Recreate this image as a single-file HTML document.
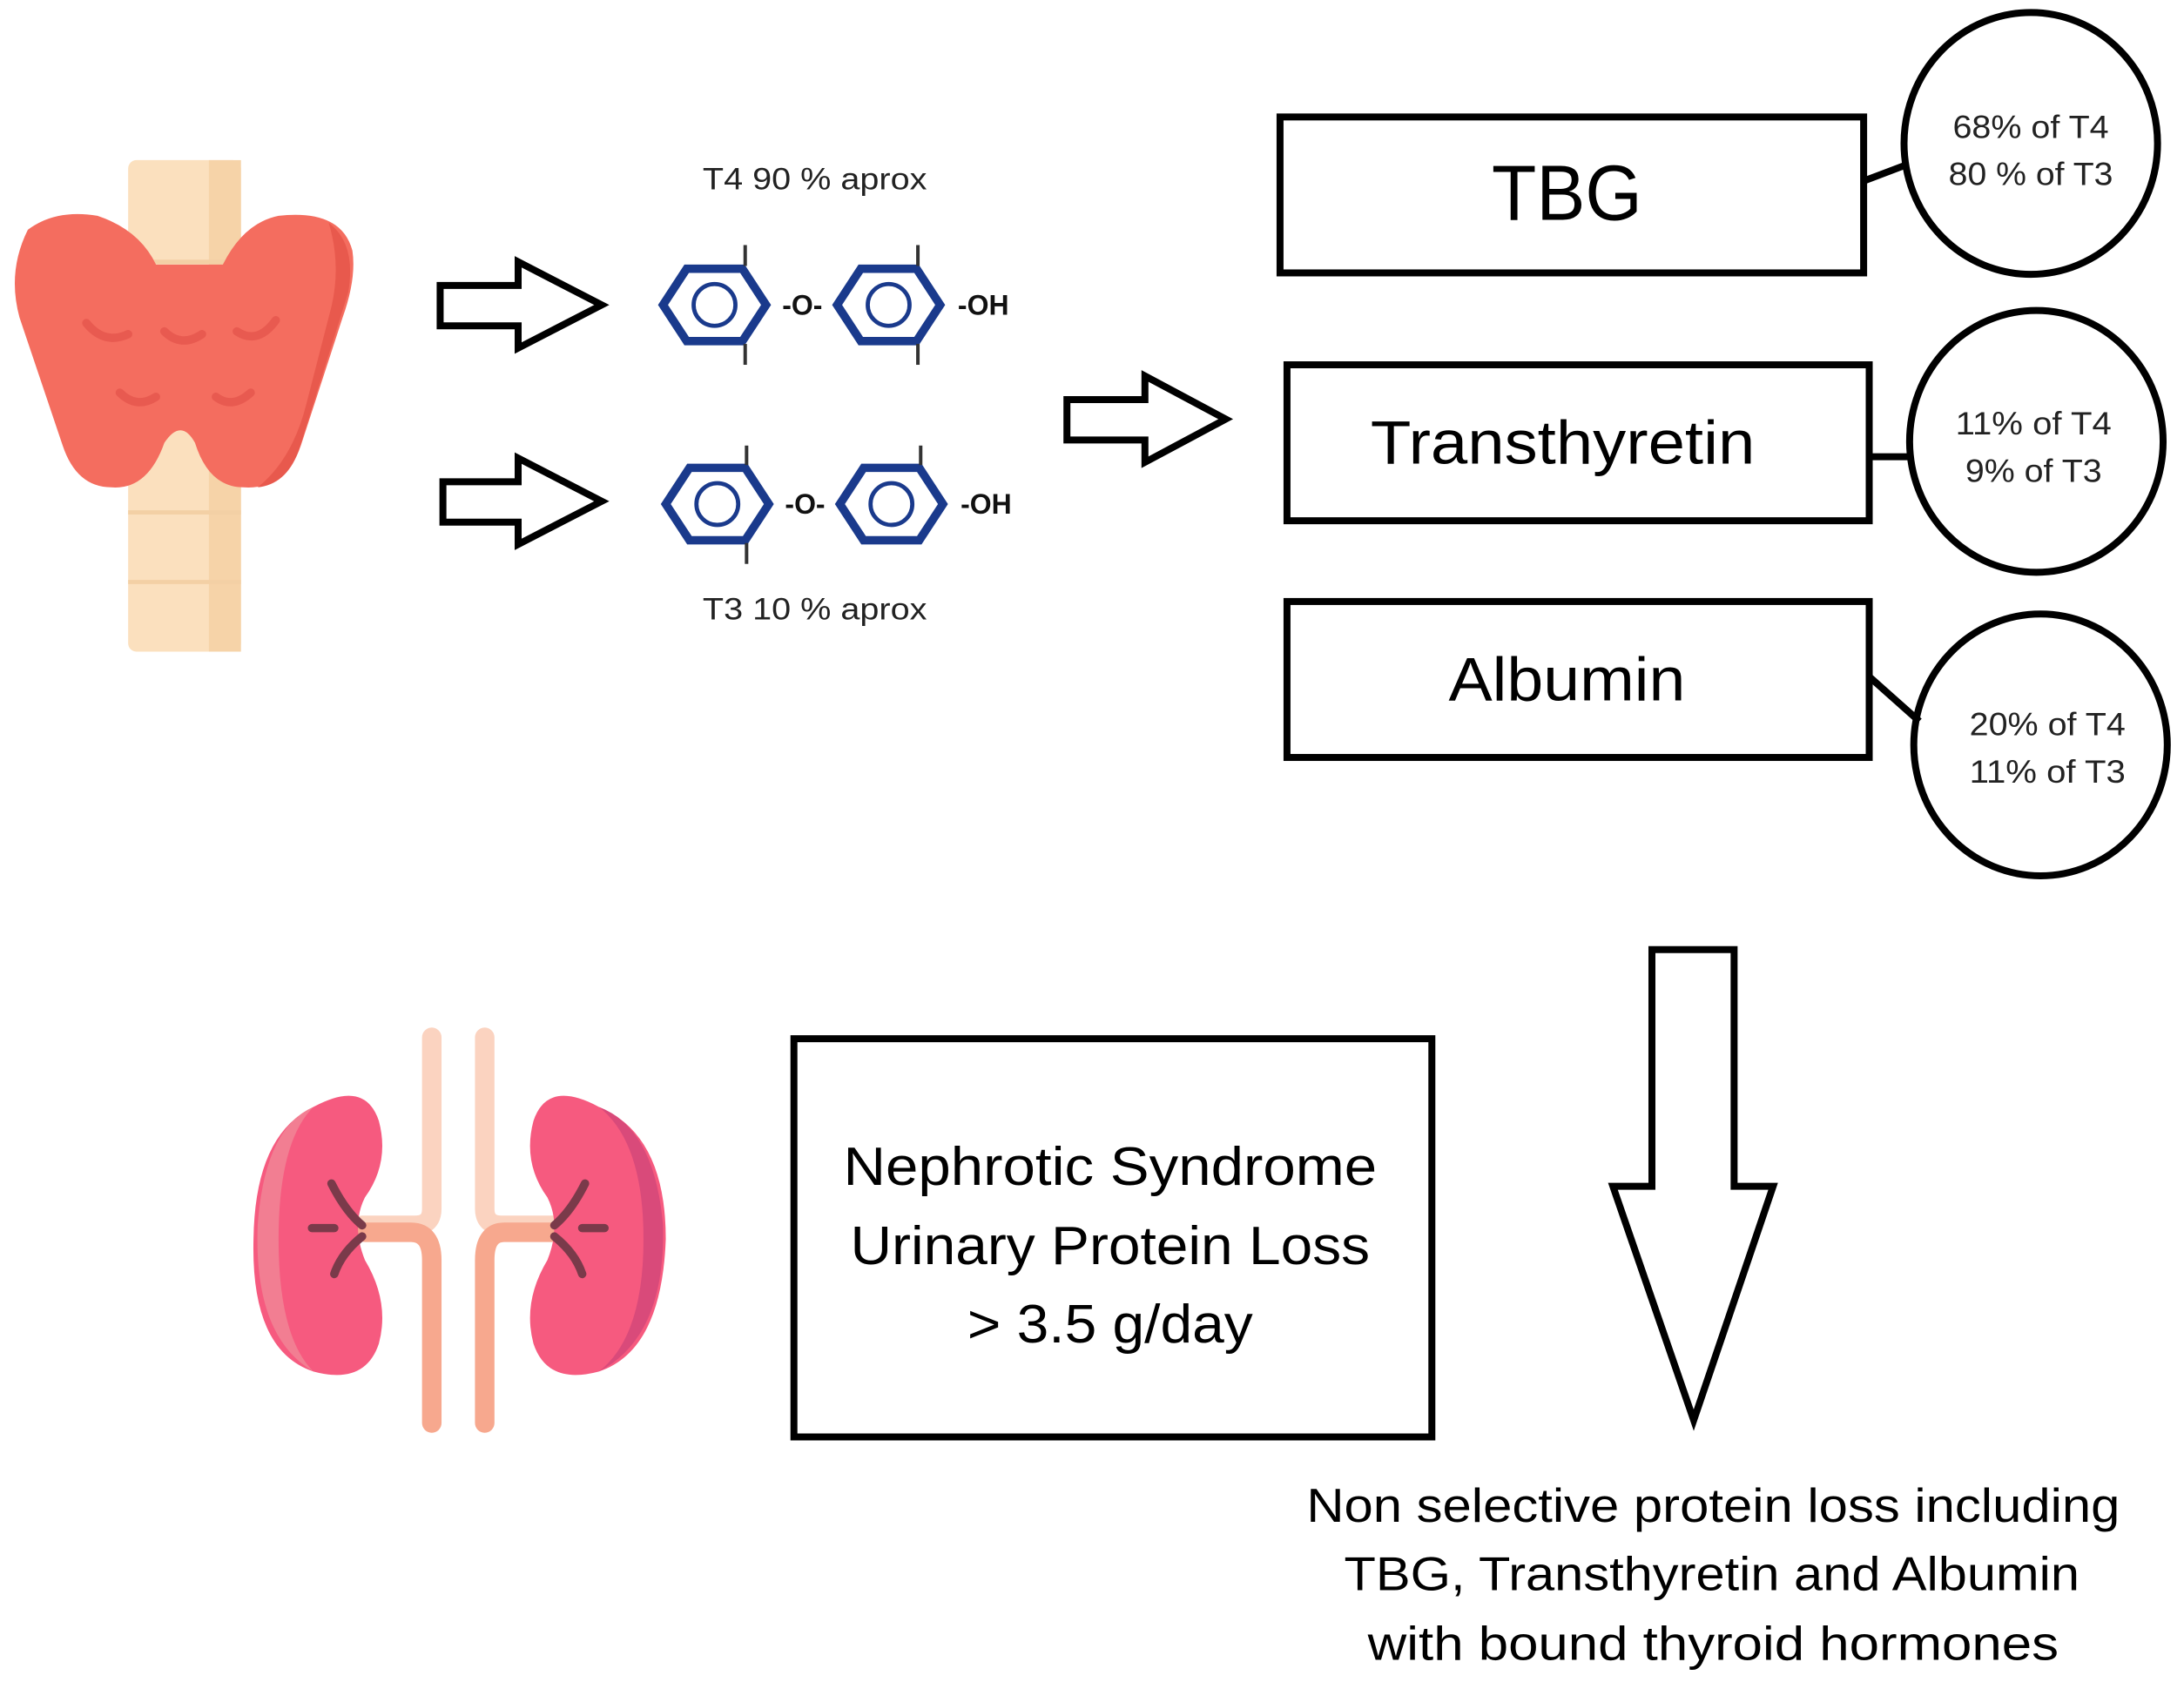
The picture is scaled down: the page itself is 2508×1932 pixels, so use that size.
<!DOCTYPE html>
<html><head><meta charset="utf-8"><style>html,body{margin:0;padding:0;background:#fff}svg{display:block}text{font-family:"Liberation Sans",sans-serif}</style></head>
<body>
<svg width="2508" height="1932" viewBox="0 0 1568 1208" preserveAspectRatio="none" xmlns="http://www.w3.org/2000/svg">
<rect width="1568" height="1208" fill="#fff"/>
<!-- thyroid -->
<rect x="92" y="115" width="81" height="353" rx="6" fill="#fbe0be"/>
<rect x="150" y="115" width="23" height="353" fill="#f6d3a8"/>
<line x1="92" y1="188" x2="173" y2="188" stroke="#f3d0a5" stroke-width="3"/>
<line x1="92" y1="368" x2="173" y2="368" stroke="#f3d0a5" stroke-width="3"/>
<line x1="92" y1="418" x2="173" y2="418" stroke="#f3d0a5" stroke-width="3"/>
<path d="M20,165 Q40,150 70,155 Q100,165 112,190 L160,190 Q175,160 200,155 Q245,150 253,180 Q256,200 246,228 L216,320 Q205,352 175,350 Q150,350 140,318 Q130,300 118,318 Q106,352 80,350 Q55,350 45,320 L14,228 Q5,195 20,165 Z" fill="#f46d5f"/>
<path d="M236,160 Q256,175 250,210 L214,325 Q205,348 185,350 Q210,330 220,290 L238,220 Q245,190 236,160Z" fill="#e8594d"/>
<g fill="none" stroke="#e85a50" stroke-width="6" stroke-linecap="round">
<path d="M62,232 Q75,248 92,240"/><path d="M118,238 Q130,250 145,240"/><path d="M170,238 Q185,248 198,230"/>
<path d="M86,282 Q98,294 112,285"/><path d="M155,285 Q167,294 180,282"/>
</g>
<!-- small arrows -->
<g fill="#fff" stroke="#000" stroke-width="5" stroke-linejoin="miter">
<path d="M316,205 L372,205 L372,188 L432,219 L372,250 L372,234 L316,234 Z"/>
<path d="M318,346 L372,346 L372,329 L432,360 L372,391 L372,375 L318,375 Z"/>
<path d="M766,287 L822,287 L822,270 L880,301 L822,332 L822,316 L766,316 Z"/>
</g>
<!-- molecules -->
<g fill="none" stroke="#1a3a8c">
<g stroke-width="6"><polygon points="476,219 493,193 533,193 550,219 533,245 493,245"/><polygon points="601,219 618,193 658,193 675,219 658,245 618,245"/>
<polygon points="478,362 495,336 535,336 552,362 535,388 495,388"/><polygon points="603,362 620,336 660,336 677,362 660,388 620,388"/></g>
<g stroke-width="3"><circle cx="513" cy="219" r="15"/><circle cx="638" cy="219" r="15"/><circle cx="515" cy="362" r="15"/><circle cx="640" cy="362" r="15"/></g>
</g>
<g stroke="#333" stroke-width="2.5">
<line x1="535" y1="176" x2="535" y2="191"/><line x1="535" y1="247" x2="535" y2="262"/>
<line x1="659" y1="176" x2="659" y2="191"/><line x1="659" y1="247" x2="659" y2="262"/>
<line x1="536" y1="320" x2="536" y2="334"/><line x1="536" y1="390" x2="536" y2="405"/>
<line x1="661" y1="320" x2="661" y2="334"/>
</g>
<g font-size="20" fill="#111" text-anchor="middle" font-weight="bold">
<text x="576" y="226">-O-</text><text x="706" y="226">-OH</text>
<text x="578" y="369">-O-</text><text x="708" y="369">-OH</text>
</g>
<g font-size="22" fill="#222" text-anchor="middle" lengthAdjust="spacingAndGlyphs"><text x="585" y="136" textLength="161" lengthAdjust="spacingAndGlyphs">T4 90 % aprox</text><text x="585" y="445" textLength="161" lengthAdjust="spacingAndGlyphs">T3 10 % aprox</text></g>
<!-- boxes -->
<g fill="#fff" stroke="#000" stroke-width="5">
<rect x="919" y="84" width="419" height="112"/>
<rect x="924" y="262" width="418" height="112"/>
<rect x="924" y="432" width="418" height="112"/>
<ellipse cx="1458" cy="103" rx="91" ry="94"/>
<ellipse cx="1462" cy="317" rx="91" ry="94"/>
<ellipse cx="1465" cy="535" rx="91" ry="94"/>
<line x1="1338" y1="130" x2="1367" y2="119"/>
<line x1="1342" y1="328" x2="1371" y2="328"/>
<line x1="1342" y1="486" x2="1378" y2="518"/>
</g>
<g fill="#000" text-anchor="middle">
<text x="1125" y="158" font-size="56" textLength="108" lengthAdjust="spacingAndGlyphs">TBG</text>
<text x="1122" y="333" font-size="44" textLength="276" lengthAdjust="spacingAndGlyphs">Transthyretin</text>
<text x="1125" y="503" font-size="44" textLength="170" lengthAdjust="spacingAndGlyphs">Albumin</text>
</g>
<g fill="#222" text-anchor="middle" font-size="23">
<text x="1458" y="99" textLength="112" lengthAdjust="spacingAndGlyphs">68% of T4</text><text x="1458" y="133" textLength="118" lengthAdjust="spacingAndGlyphs">80 % of T3</text>
<text x="1460" y="312" textLength="112" lengthAdjust="spacingAndGlyphs">11% of T4</text><text x="1460" y="346" textLength="98" lengthAdjust="spacingAndGlyphs">9% of T3</text>
<text x="1470" y="528" textLength="112" lengthAdjust="spacingAndGlyphs">20% of T4</text><text x="1470" y="562" textLength="112" lengthAdjust="spacingAndGlyphs">11% of T3</text>
</g>
<!-- down arrow -->
<path d="M1186,682 L1245,682 L1245,852 L1273,852 L1216,1020 L1158,852 L1186,852 Z" fill="#fff" stroke="#000" stroke-width="5"/>
<!-- nephrotic box -->
<rect x="570" y="746" width="458" height="286" fill="#fff" stroke="#000" stroke-width="5"/>
<g fill="#000" text-anchor="middle" font-size="39">
<text x="797" y="851" textLength="383" lengthAdjust="spacingAndGlyphs">Nephrotic Syndrome</text><text x="797" y="908" textLength="373" lengthAdjust="spacingAndGlyphs">Urinary Protein Loss</text><text x="797" y="964" textLength="205" lengthAdjust="spacingAndGlyphs">&gt; 3.5 g/day</text>
</g>
<g fill="#000" text-anchor="middle" font-size="34">
<text x="1230" y="1093" textLength="584" lengthAdjust="spacingAndGlyphs">Non selective protein loss including</text>
<text x="1229" y="1142" textLength="528" lengthAdjust="spacingAndGlyphs">TBG, Transthyretin and Albumin</text>
<text x="1230" y="1192" textLength="496" lengthAdjust="spacingAndGlyphs">with bound thyroid hormones</text>
</g>
<!-- kidneys -->
<g fill="none" stroke-linecap="round" stroke-width="14">
<path d="M310,745 L310,868 Q310,880 298,880 L260,880" stroke="#fbd3c0"/>
<path d="M348,745 L348,868 Q348,880 360,880 L400,880" stroke="#fbd3c0"/>
<path d="M262,885 L295,885 Q310,885 310,905 L310,1022" stroke="#f7a88e"/>
<path d="M396,885 L362,885 Q348,885 348,905 L348,1022" stroke="#f7a88e"/>
</g>
<path d="M225,795 Q262,775 272,805 Q280,835 262,860 Q252,880 262,905 Q280,935 272,965 Q262,995 225,985 Q180,970 182,890 Q183,815 225,795Z" fill="#f65a7f"/>
<path d="M225,795 Q190,810 185,880 Q182,960 225,985 Q200,960 200,890 Q200,820 225,795Z" fill="#f27e92"/>
<path d="M430,795 Q393,775 383,805 Q375,835 393,860 Q403,880 393,905 Q375,935 383,965 Q393,995 430,985 Q475,970 478,890 Q478,815 430,795Z" fill="#f65a7f"/>
<path d="M430,795 Q470,810 476,880 Q478,960 430,985 Q462,960 462,890 Q462,820 430,795Z" fill="#d94a7a"/>
<g stroke="#7a3a4a" stroke-width="6" fill="none" stroke-linecap="round">
<path d="M238,850 Q248,870 260,880"/><path d="M260,888 Q245,900 240,915"/><line x1="224" y1="882" x2="240" y2="882"/>
<path d="M420,850 Q410,870 398,880"/><path d="M398,888 Q413,900 418,915"/><line x1="418" y1="882" x2="434" y2="882"/>
</g>
</svg>
</body></html>
